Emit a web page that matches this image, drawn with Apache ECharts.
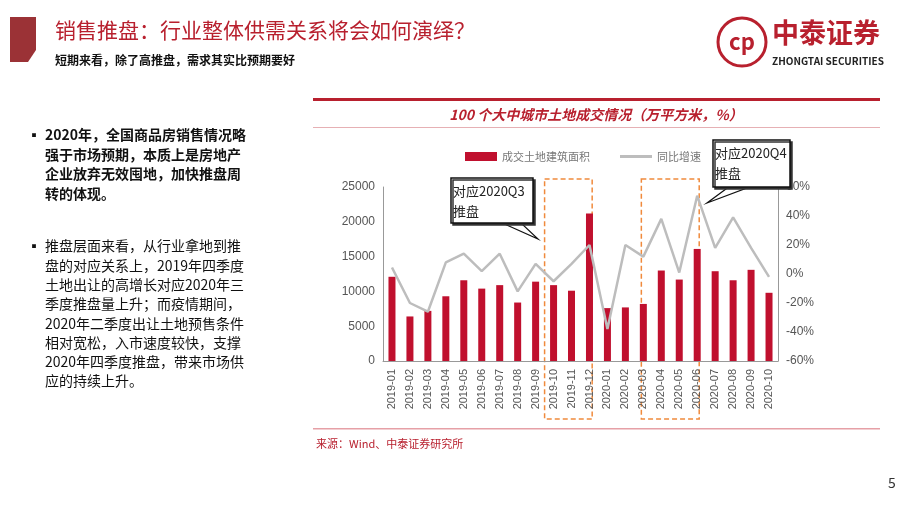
<!DOCTYPE html>
<html><head><meta charset="utf-8">
<script src="https://cdn.jsdelivr.net/npm/echarts@6/dist/echarts.min.js"></script>
<style>
html,body{margin:0;padding:0;background:#fff;}
#c{width:920px;height:518px;}
</style></head><body><div id="c"></div>
<script>
const categories=['2019-01','2019-02','2019-03','2019-04','2019-05','2019-06','2019-07','2019-08','2019-09','2019-10','2019-11','2019-12','2020-01','2020-02','2020-03','2020-04','2020-05','2020-06','2020-07','2020-08','2020-09','2020-10'];
const areaValues=[12100,6400,7200,9300,11600,10400,10900,8400,11400,10900,10100,21200,7600,7700,8200,13000,11700,16100,12900,11600,13100,9800];
const growthValues=[4.5,-20,-26,8,14,2,14,-12,7,-5,7,20,-38,20,12,38,1,54,18,39,18,-2];
const leftTicks=[0,5000,10000,15000,20000,25000];
const rightTicks=[-60,-40,-20,0,20,40,60];
const para1=['2020年，全国商品房销售情况略','强于市场预期，本质上是房地产','企业放弃无效囤地，加快推盘周','转的体现。'];
const para2=['推盘层面来看，从行业拿地到推','盘的对应关系上，2019年四季度','土地出让的高增长对应2020年三','季度推盘量上升；而疫情期间，','2020年二季度出让土地预售条件','相对宽松，入市速度较快，支撑','2020年四季度推盘，带来市场供','应的持续上升。'];

const chart=echarts.init(document.getElementById('c'));
const F='"Noto Sans CJK SC","Noto Sans",sans-serif';
const g=[];
g.push({type:'polygon',shape:{points:[[10,17],[36,17],[36,50],[28,62],[10,62]]},style:{fill:'#9b3236'}});
g.push({type:'text',left:55,top:20,style:{text:'销售推盘：行业整体供需关系将会如何演绎？',fill:'#b8202e',font:'21px '+F}});
g.push({type:'text',left:55,top:54,style:{text:'短期来看，除了高推盘，需求其实比预期要好',fill:'#111',font:'bold 12px '+F}});
g.push({type:'circle',shape:{cx:742,cy:42,r:24},style:{fill:'none',stroke:'#b8202e',lineWidth:3}});
g.push({type:'text',x:742,y:42,style:{text:'cp',fill:'#b8202e',font:'bold 22px '+F,align:'center',verticalAlign:'middle'}});
g.push({type:'text',left:772,top:19,style:{text:'中泰证券',fill:'#b8202e',font:'bold 27px '+F}});
g.push({type:'text',left:772,top:56,style:{text:'ZHONGTAI SECURITIES',fill:'#222',font:'bold 10px '+F}});
g.push({type:'rect',shape:{x:313,y:98,width:567,height:3},style:{fill:'#b8202e'}});
g.push({type:'text',x:596,y:115,style:{text:'100 个大中城市土地成交情况（万平方米，%）',fill:'#b8202e',font:'italic bold 14px '+F,align:'center',verticalAlign:'middle'}});
g.push({type:'rect',shape:{x:313,y:127,width:567,height:1},style:{fill:'#e6b0b4'}});
g.push({type:'rect',shape:{x:313,y:428,width:567,height:1.5},style:{fill:'#e6a0a6'}});
g.push({type:'text',left:316,top:438,style:{text:'来源：Wind、中泰证券研究所',fill:'#b8202e',font:'11px '+F}});
g.push({type:'text',left:888,top:476,style:{text:'5',fill:'#333',font:'14px '+F}});
g.push({type:'text',left:27,top:128,style:{text:'▪',fill:'#111',font:'14px '+F}});
para1.forEach((t,i)=>g.push({type:'text',left:45,top:128+i*19.5,style:{text:t,fill:'#111',font:'bold 14px '+F}}));
g.push({type:'text',left:27,top:239,style:{text:'▪',fill:'#111',font:'14px '+F}});
para2.forEach((t,i)=>g.push({type:'text',left:45,top:239+i*19.3,style:{text:t,fill:'#111',font:'14px '+F}}));

chart.setOption({
  animation:false,
  backgroundColor:'#fff',
  graphic:g,
  legend:{top:146,left:460,itemGap:30,itemWidth:32,itemHeight:9,textStyle:{color:'#777',fontSize:11,fontFamily:F},
    data:[{name:'成交土地建筑面积',icon:'rect'},{name:'同比增速',icon:'path://M0,0H32V3H0Z'}]},
  grid:{left:383,right:142,top:187,bottom:157},
  xAxis:{type:'category',data:categories,axisTick:{show:false},axisLine:{lineStyle:{color:'#999'}},
    axisLabel:{rotate:90,color:'#555',fontSize:11,interval:0,fontFamily:'Liberation Sans'}},
  yAxis:[{type:'value',min:0,max:25000,interval:5000,splitLine:{show:false},axisLine:{show:true,lineStyle:{color:'#999'}},
    axisLabel:{color:'#555',fontSize:12,formatter:v=>String(v),fontFamily:'Liberation Sans'}},
   {type:'value',min:-60,max:60,interval:20,splitLine:{show:false},axisLine:{show:true,lineStyle:{color:'#999'}},
    axisLabel:{color:'#555',fontSize:12,formatter:'{value}%',fontFamily:'Liberation Sans'}}],
  series:[{name:'成交土地建筑面积',type:'bar',data:areaValues,barWidth:7,itemStyle:{color:'#c0102e'}},
   {name:'同比增速',type:'line',yAxisIndex:1,data:growthValues,symbol:'none',lineStyle:{color:'#bdbdbd',width:2.5},itemStyle:{color:'#bdbdbd'}}]
});
function px(i){return chart.convertToPixel({xAxisIndex:0},categories[i]);}
const half=(px(1)-px(0))/2;
const extra=[];
[[px(9)-half,px(11)+half*0.3],[px(14)-2,px(17)+2]].forEach(([x0,x1])=>{
  extra.push({type:'rect',shape:{x:x0,y:179,width:x1-x0,height:240},style:{fill:'none',stroke:'#f08a3c',lineWidth:1.5,lineDash:[5,3]}});
});
function callout(x,y,w,h,text,tipPts){
  extra.push({type:'polygon',shape:{points:tipPts},style:{fill:'#fff',stroke:'#111',lineWidth:1.2},z:10});
  extra.push({type:'rect',shape:{x,y,width:w,height:h},style:{fill:'#fff',stroke:'#111',lineWidth:1.5,shadowColor:'#333',shadowOffsetX:2,shadowOffsetY:2},z:11});
  extra.push({type:'text',left:x+2,top:y+3,z:12,style:{text,fill:'#222',font:'13px "Noto Sans CJK SC"',lineHeight:20}});
}
callout(451,178,82,45,'对应2020Q3\n推盘',[[500,222],[538,239],[520,222]]);
callout(713,140,77,47,'对应2020Q4\n推盘',[[730,186],[707,203],[752,186]]);
chart.setOption({graphic:g.concat(extra)});
</script></body></html>
